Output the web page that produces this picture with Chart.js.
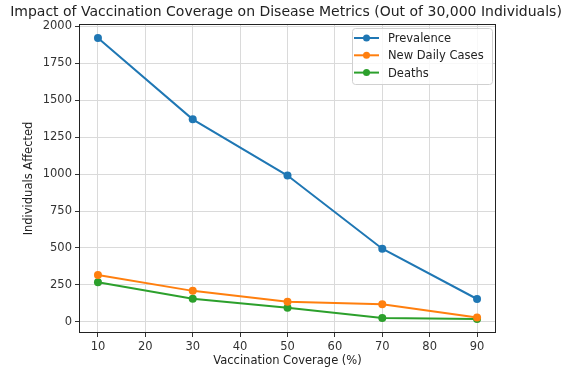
<!DOCTYPE html>
<html>
<head>
<meta charset="utf-8">
<script src="https://cdn.jsdelivr.net/npm/chart.js@4"></script>
<style>
  html, body { margin: 0; padding: 0; background: #fff; }
  #wrap { width: 563px; height: 373px; }
</style>
</head>
<body>
<div id="wrap"><canvas id="chart"></canvas></div>
<script>
// Data
const coverage = [10, 30, 50, 70, 90];
const prevalence = [1920, 1370, 990, 495, 155];
const newDailyCases = [318, 210, 137, 120, 30];
const deaths = [268, 157, 96, 27, 20];
const xTicks = [10, 20, 30, 40, 50, 60, 70, 80, 90];
const yTicks = [0, 250, 500, 750, 1000, 1250, 1500, 1750, 2000];
const seriesNames = ['Prevalence', 'New Daily Cases', 'Deaths'];
const seriesColors = ['#1f77b4', '#ff7f0e', '#2ca02c'];

const font = 'DejaVu Sans';
const fs = 11.5;

function toPoints(vals) {
    return coverage.map((x, i) => ({ x: x, y: vals[i] }));
}

// frame, title and the legend box inside the plot
const decorations = {
    id: 'decorations',
    afterDraw(chart) {
        const c = chart.ctx;
        const a = chart.chartArea;
        c.save();
        c.strokeStyle = '#222';
        c.lineWidth = 1;
        c.strokeRect(a.left + 0.5, a.top + 0.5, a.right - a.left - 1, a.bottom - a.top - 1);

        c.fillStyle = '#222';
        c.font = '14px "' + font + '"';
        c.textAlign = 'center';
        c.textBaseline = 'middle';
        c.fillText('Impact of Vaccination Coverage on Disease Metrics (Out of 30,000 Individuals)', 286, 12);

        // legend
        const bx = a.right - 144, by = a.top + 4, bw = 140, bh = 56;
        c.fillStyle = 'rgba(255,255,255,0.8)';
        c.strokeStyle = '#d0d0d0';
        c.beginPath();
        c.roundRect(bx + 0.5, by + 0.5, bw, bh, 3);
        c.fill();
        c.stroke();
        c.font = fs + 'px "' + font + '"';
        c.textAlign = 'left';
        chart.data.datasets.forEach((ds, i) => {
            const yy = by + 10 + i * 17.3;
            c.strokeStyle = ds.borderColor;
            c.lineWidth = 2;
            c.beginPath();
            c.moveTo(bx + 2, yy);
            c.lineTo(bx + 27, yy);
            c.stroke();
            c.fillStyle = ds.borderColor;
            c.beginPath();
            c.arc(bx + 14.5, yy, 3.5, 0, Math.PI * 2);
            c.fill();
            c.fillStyle = '#222';
            c.fillText(ds.label, bx + 36, yy + 1);
        });
        c.restore();
    }
};

new Chart(document.getElementById('chart'), {
    type: 'line',
    data: {
        datasets: seriesNames.map((name, i) => ({
            label: name,
            data: toPoints([prevalence, newDailyCases, deaths][i]),
            borderColor: seriesColors[i],
            backgroundColor: seriesColors[i],
            borderWidth: 2,
            pointRadius: 4,
            pointHoverRadius: 4,
            pointBorderWidth: 0,
            tension: 0
        }))
    },
    options: {
        responsive: true,
        maintainAspectRatio: false,
        animation: false,
        layout: { padding: { left: 0, top: 24, right: 67, bottom: 0 } },
        plugins: {
            legend: { display: false },
            title: { display: false },
            tooltip: { enabled: false }
        },
        scales: {
            x: {
                type: 'linear',
                min: 6,
                max: 94,
                afterBuildTicks: s => { s.ticks = xTicks.map(v => ({ value: v })); },
                afterFit: s => { s.height = 40; },
                grid: { color: '#dadada', tickColor: '#333', tickLength: 4, lineWidth: 1 },
                border: { display: false },
                ticks: { color: '#333', padding: 3, font: { family: font, size: fs }, maxRotation: 0 },
                title: { display: true, text: 'Vaccination Coverage (%)', color: '#222', padding: { top: 0, bottom: 5 }, font: { family: font, size: fs } }
            },
            y: {
                min: -75,
                max: 2015,
                afterBuildTicks: s => { s.ticks = yTicks.map(v => ({ value: v })); },
                afterFit: s => { s.width = 79; },
                grid: { color: '#dadada', tickColor: '#333', tickLength: 4, lineWidth: 1 },
                border: { display: false },
                ticks: { color: '#333', padding: 3, font: { family: font, size: fs }, callback: v => String(v) },
                title: { display: true, text: 'Individuals Affected', color: '#222', padding: { top: 22, bottom: 0 }, font: { family: font, size: fs } }
            }
        }
    },
    plugins: [decorations]
});
</script>
</body>
</html>
